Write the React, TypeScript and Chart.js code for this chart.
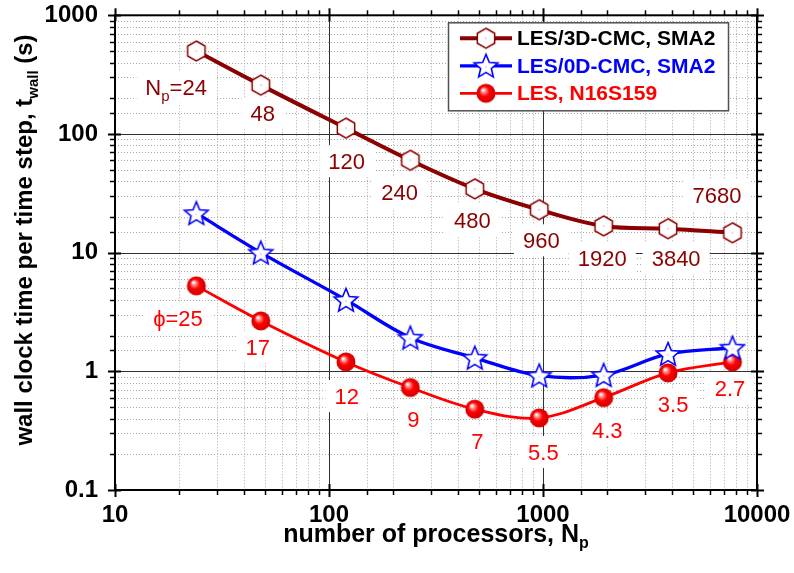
import React, { useEffect, useRef } from "react";
import { Chart, registerables } from "chart.js";

Chart.register(...registerables);

// ---------- data ----------
const processors = [24, 48, 120, 240, 480, 960, 1920, 3840, 7680];
const les3dCmcSma2 = [500, 258, 112, 60, 34.5, 23, 16.8, 15.9, 14.7];
const les0dCmcSma2 = [21.5, 10, 4.0, 1.92, 1.3, 0.92, 0.93, 1.4, 1.58];
const lesN16S159 = [5.25, 2.66, 1.2, 0.73, 0.48, 0.405, 0.6, 0.97, 1.2];

const seriesNames = ["LES/3D-CMC, SMA2", "LES/0D-CMC, SMA2", "LES, N16S159"];

const xAxisMin = 10;
const xAxisMax = 10000;
const yAxisMin = 0.1;
const yAxisMax = 1000;

const xAxisTitle = ["number of processors, N", "p"];
const yAxisTitle = ["wall clock time per time step, t", "wall", " (s)"];

// annotation texts, anchored in data coordinates
const processorLabels = ["N_p=24", "48", "120", "240", "480", "960", "1920", "3840", "7680"];
const processorLabelX = [19.3, 49, 121, 214, 468, 982, 1892, 4189, 6508];
const processorLabelY = [248, 149.5, 59, 32.3, 18.8, 12.7, 9.0, 9.0, 30.5];

const phiLabels = ["ϕ=25", "17", "12", "9", "7", "5.5", "4.3", "3.5", "2.7"];
const phiLabelX = [19.7, 46.5, 121, 248, 494, 1004, 1996, 4057, 7482];
const phiLabelY = [2.81, 1.6, 0.619, 0.396, 0.259, 0.209, 0.32, 0.53, 0.723];

// ---------- styles ----------
const DARK_RED = "#8b0000";
const BLUE = "#0000ff";
const RED = "#ff0000";
const FONT = "'Liberation Sans', Arial, Helvetica, sans-serif";

function isDecade(v: number) {
  const l = Math.log10(v);
  return Math.abs(l - Math.round(l)) < 1e-6;
}

function makeHexagon(): HTMLCanvasElement {
  const s = 24;
  const c = document.createElement("canvas");
  c.width = s;
  c.height = s;
  const g = c.getContext("2d")!;
  const r = 10;
  const cx = s / 2;
  const cy = s / 2;
  g.beginPath();
  for (let i = 0; i < 6; i++) {
    const a = -Math.PI / 2 + (i * Math.PI) / 3;
    const px = cx + r * Math.cos(a);
    const py = cy + r * Math.sin(a);
    if (i === 0) g.moveTo(px, py);
    else g.lineTo(px, py);
  }
  g.closePath();
  g.fillStyle = "#ffffff";
  g.fill();
  g.lineWidth = 1.5;
  g.strokeStyle = DARK_RED;
  g.stroke();
  g.fillStyle = "#d05050";
  g.fillRect(cx - 0.5, cy - 0.5, 1, 1);
  return c;
}

function makeStar(): HTMLCanvasElement {
  const s = 28;
  const c = document.createElement("canvas");
  c.width = s;
  c.height = s;
  const g = c.getContext("2d")!;
  const ro = 12.5;
  const ri = 5.6;
  const cx = s / 2;
  const cy = s / 2 + 1;
  g.beginPath();
  for (let i = 0; i < 10; i++) {
    const a = -Math.PI / 2 + (i * Math.PI) / 5;
    const r = i % 2 === 0 ? ro : ri;
    const px = cx + r * Math.cos(a);
    const py = cy + r * Math.sin(a);
    if (i === 0) g.moveTo(px, py);
    else g.lineTo(px, py);
  }
  g.closePath();
  g.fillStyle = "#ffffff";
  g.fill();
  g.lineWidth = 1.6;
  g.strokeStyle = BLUE;
  g.lineJoin = "miter";
  g.stroke();
  g.fillStyle = "#8080ff";
  g.fillRect(cx - 0.5, cy - 0.5, 1, 1);
  return c;
}

function makeSphere(): HTMLCanvasElement {
  const s = 22;
  const c = document.createElement("canvas");
  c.width = s;
  c.height = s;
  const g = c.getContext("2d")!;
  const r = 9.5;
  const cx = s / 2;
  const cy = s / 2;
  const grad = g.createRadialGradient(cx - 3, cy - 3.5, 0.5, cx, cy, r);
  grad.addColorStop(0, "#ffffff");
  grad.addColorStop(0.22, "#ff8080");
  grad.addColorStop(0.5, "#ff0000");
  grad.addColorStop(1, "#d00000");
  g.beginPath();
  g.arc(cx, cy, r, 0, Math.PI * 2);
  g.fillStyle = grad;
  g.fill();
  return c;
}

function drawRichText(
  ctx: CanvasRenderingContext2D,
  parts: string[],
  cx: number,
  baseline: number,
  mainFont: string,
  subFont: string,
  subShift: number,
  color: string,
  box: boolean
) {
  let total = 0;
  const widths = parts.map((p, i) => {
    ctx.font = i % 2 === 1 ? subFont : mainFont;
    const w = ctx.measureText(p).width;
    total += w;
    return w;
  });
  let x = cx - total / 2;
  if (box) {
    ctx.fillStyle = "#ffffff";
    ctx.fillRect(x - 9, baseline - 24, total + 18, 32);
  }
  ctx.fillStyle = color;
  ctx.textAlign = "left";
  ctx.textBaseline = "alphabetic";
  parts.forEach((p, i) => {
    ctx.font = i % 2 === 1 ? subFont : mainFont;
    ctx.fillText(p, x, baseline + (i % 2 === 1 ? subShift : 0));
    x += widths[i];
  });
}

function drawAnnotations(
  ctx: CanvasRenderingContext2D,
  xs: any,
  ys: any,
  texts: string[],
  xv: number[],
  yv: number[],
  color: string
) {
  texts.forEach((t, i) => {
    const px = xs.getPixelForValue(xv[i]);
    const py = ys.getPixelForValue(yv[i]);
    const parts = t.split(/_(.)/);
    drawRichText(ctx, parts, px, py + 8, `22px ${FONT}`, `15px ${FONT}`, 6, color, true);
  });
}

function makePlugin(markers: HTMLCanvasElement[]) {
  return {
    id: "originStyle",
    beforeDatasetsDraw(chart: any) {
      const { ctx, chartArea: a } = chart;
      const xs = chart.scales.x;
      const ys = chart.scales.y;
      ctx.save();
      ctx.lineWidth = 1;
      // minor grid (dotted)
      ctx.strokeStyle = "#a8a8a8";
      ctx.setLineDash([1, 2]);
      ctx.beginPath();
      xs.ticks.forEach((t: any) => {
        if (!isDecade(t.value)) {
          const p = Math.round(xs.getPixelForValue(t.value)) + 0.5;
          ctx.moveTo(p, a.top);
          ctx.lineTo(p, a.bottom);
        }
      });
      ys.ticks.forEach((t: any) => {
        if (!isDecade(t.value)) {
          const p = Math.round(ys.getPixelForValue(t.value)) + 0.5;
          ctx.moveTo(a.left, p);
          ctx.lineTo(a.right, p);
        }
      });
      ctx.stroke();
      // major grid (solid)
      ctx.setLineDash([]);
      ctx.strokeStyle = "#303030";
      ctx.beginPath();
      xs.ticks.forEach((t: any) => {
        if (isDecade(t.value)) {
          const p = Math.round(xs.getPixelForValue(t.value)) + 0.5;
          ctx.moveTo(p, a.top);
          ctx.lineTo(p, a.bottom);
        }
      });
      ys.ticks.forEach((t: any) => {
        if (isDecade(t.value)) {
          const p = Math.round(ys.getPixelForValue(t.value)) + 0.5;
          ctx.moveTo(a.left, p);
          ctx.lineTo(a.right, p);
        }
      });
      ctx.stroke();
      // annotations
      drawAnnotations(ctx, xs, ys, processorLabels, processorLabelX, processorLabelY, DARK_RED);
      drawAnnotations(ctx, xs, ys, phiLabels, phiLabelX, phiLabelY, RED);
      ctx.restore();
    },
    afterDatasetsDraw(chart: any) {
      const { ctx, chartArea: a } = chart;
      ctx.save();
      // legend
      const lx = a.right - 309;
      const ly = a.top + 7;
      const lw = 280;
      const lh = 88;
      ctx.fillStyle = "#ffffff";
      ctx.fillRect(lx, ly, lw, lh);
      ctx.strokeStyle = "#505050";
      ctx.lineWidth = 1.5;
      ctx.strokeRect(lx + 0.5, ly + 0.5, lw, lh);
      const rowY = [ly + 16, ly + 43.5, ly + 71];
      const textColors = ["#000000", BLUE, RED];
      chart.data.datasets.forEach((ds: any, i: number) => {
        const y = rowY[i];
        ctx.strokeStyle = ds.borderColor;
        ctx.lineWidth = ds.borderWidth;
        ctx.beginPath();
        ctx.moveTo(lx + 12, y);
        ctx.lineTo(lx + 64, y);
        ctx.stroke();
        const m = markers[i];
        ctx.drawImage(m, lx + 38 - m.width / 2, y - m.height / 2);
        ctx.font = `bold 21px ${FONT}`;
        ctx.fillStyle = textColors[i];
        ctx.textAlign = "left";
        ctx.textBaseline = "middle";
        ctx.fillText(ds.label, lx + 69, y + 1);
      });
      ctx.restore();
    },
    afterDraw(chart: any) {
      const { ctx, chartArea: a } = chart;
      const xs = chart.scales.x;
      const ys = chart.scales.y;
      ctx.save();
      // frame
      ctx.strokeStyle = "#000000";
      ctx.lineWidth = 2;
      ctx.strokeRect(a.left, a.top, a.right - a.left, a.bottom - a.top);
      // ticks
      const tick = (x1: number, y1: number, x2: number, y2: number, w: number) => {
        ctx.lineWidth = w;
        ctx.beginPath();
        ctx.moveTo(x1, y1);
        ctx.lineTo(x2, y2);
        ctx.stroke();
      };
      xs.ticks.forEach((t: any) => {
        const p = Math.round(xs.getPixelForValue(t.value)) + 0.5;
        if (isDecade(t.value)) {
          tick(p, a.bottom - 6, p, a.bottom + 7, 2);
          tick(p, a.top + 6, p, a.top - 7, 2);
        } else {
          tick(p, a.bottom, p, a.bottom + 5, 1.5);
          tick(p, a.top, p, a.top - 5, 1.5);
        }
      });
      ys.ticks.forEach((t: any) => {
        const p = Math.round(ys.getPixelForValue(t.value)) + 0.5;
        if (isDecade(t.value)) {
          tick(a.left + 6, p, a.left - 7, p, 2);
          tick(a.right - 6, p, a.right + 7, p, 2);
        } else {
          tick(a.left, p, a.left - 5, p, 1.5);
          tick(a.right, p, a.right + 5, p, 1.5);
        }
      });
      // axis titles
      drawRichText(
        ctx,
        xAxisTitle,
        (a.left + a.right) / 2,
        542,
        `bold 25px ${FONT}`,
        `bold 16px ${FONT}`,
        6,
        "#000000",
        false
      );
      ctx.translate(32, 240);
      ctx.rotate(-Math.PI / 2);
      drawRichText(
        ctx,
        yAxisTitle,
        0,
        0,
        `bold 24px ${FONT}`,
        `bold 15px ${FONT}`,
        6,
        "#000000",
        false
      );
      ctx.restore();
    },
  };
}

export default function App() {
  const ref = useRef<HTMLCanvasElement | null>(null);

  useEffect(() => {
    document.body.style.margin = "0";
    const canvas = ref.current!;
    const hex = makeHexagon();
    const star = makeStar();
    const sphere = makeSphere();
    const toPoints = (vals: number[]) => processors.map((p, i) => ({ x: p, y: vals[i] }));
    const tickFont = { family: FONT, size: 24, weight: "bold" as const };
    const fmt = (v: number) => (isDecade(v) ? (v >= 1 ? String(Math.round(v)) : String(v)) : "");

    const chart = new Chart(canvas, {
      type: "line",
      data: {
        datasets: [
          {
            label: seriesNames[0],
            data: toPoints(les3dCmcSma2),
            borderColor: DARK_RED,
            backgroundColor: DARK_RED,
            borderWidth: 4,
            pointStyle: hex as any,
            pointRadius: 10,
            tension: 0.35,
            fill: false,
          },
          {
            label: seriesNames[1],
            data: toPoints(les0dCmcSma2),
            borderColor: BLUE,
            backgroundColor: BLUE,
            borderWidth: 3.3,
            pointStyle: star as any,
            pointRadius: 12,
            tension: 0.35,
            fill: false,
          },
          {
            label: seriesNames[2],
            data: toPoints(lesN16S159),
            borderColor: RED,
            backgroundColor: RED,
            borderWidth: 2.8,
            pointStyle: sphere as any,
            pointRadius: 10,
            tension: 0.35,
            fill: false,
          },
        ],
      },
      options: {
        animation: false,
        responsive: false,
        maintainAspectRatio: false,
        events: [],
        layout: { padding: { top: 14, right: 37, left: 0, bottom: 0 } },
        plugins: { legend: { display: false }, tooltip: { enabled: false } },
        scales: {
          x: {
            type: "logarithmic",
            min: xAxisMin,
            max: xAxisMax,
            grid: { display: false, drawTicks: false },
            border: { display: false },
            ticks: {
              autoSkip: false,
              maxRotation: 0,
              padding: 11,
              color: "#000000",
              font: tickFont,
              callback: (v: any) => fmt(Number(v)),
            },
            afterFit: (s: any) => {
              s.height = 83;
              s.paddingLeft = 0;
              s.paddingRight = 0;
            },
          },
          y: {
            type: "logarithmic",
            min: yAxisMin,
            max: yAxisMax,
            grid: { display: false, drawTicks: false },
            border: { display: false },
            ticks: {
              autoSkip: false,
              padding: 17,
              color: "#000000",
              font: tickFont,
              callback: (v: any) => fmt(Number(v)),
            },
            afterFit: (s: any) => {
              s.width = 115;
              s.paddingTop = 0;
              s.paddingBottom = 0;
            },
          },
        },
      },
      plugins: [makePlugin([hex, star, sphere])],
    });

    return () => chart.destroy();
  }, []);

  return (
    <div style={{ width: 794, height: 573 }}>
      <canvas ref={ref} width={794} height={573} style={{ display: "block" }} />
    </div>
  );
}
